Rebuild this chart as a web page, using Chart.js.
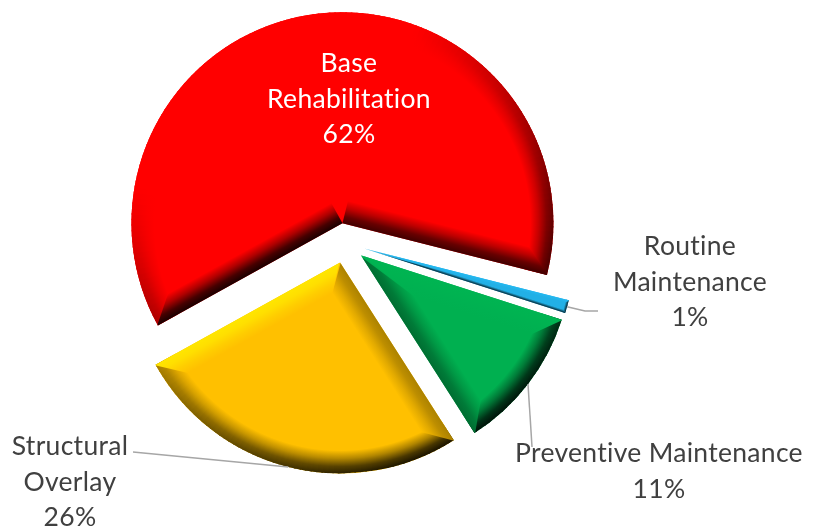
<!DOCTYPE html>
<html>
<head>
<meta charset="utf-8">
<script src="https://cdn.jsdelivr.net/npm/chart.js@4.4.0/dist/chart.umd.min.js"></script>
<style>
  html, body { margin: 0; padding: 0; background: #fff; }
  #wrap { width: 820px; height: 532px; position: relative; }
</style>
</head>
<body>
<div id="wrap"><canvas id="pieChart"></canvas></div>
<script>
// data
const categories = ['Base Rehabilitation', 'Routine Maintenance', 'Preventive Maintenance', 'Structural Overlay'];
const labelLines = [['Base', 'Rehabilitation'], ['Routine', 'Maintenance'], ['Preventive Maintenance'], ['Structural', 'Overlay']];
const shares = [62, 1, 11, 26];

// look
const sliceColors = ['#FF0000', '#22B0E6', '#00B050', '#FFC000'];
const EXPLODE = 20;
const BEVEL = 23;
const FONT = '26.5px Lato';
const LINE_H = 35.5;
// text anchor (first baseline) and leader bends for each label
const labelLayout = [
  { x: 349, y: 72, color: '#FFFFFF' },
  { x: 690, y: 255, color: '#404040', leader: [[585, 311], [598, 311]] },
  { x: 659, y: 462, color: '#404040', leader: [[532, 447]] },
  { x: 70, y: 455, color: '#404040', leader: [[133, 452]] }
];

const LIGHT = (function () { const x = -0.5, y = -0.87, l = Math.hypot(x, y); return [x / l, y / l]; })();
const PROFILE = [[0, 1], [0.3, 0.8], [0.65, 0.35], [1, 0]]; // depth (0 = rim) -> strength

function hexRgb(h) { const n = parseInt(h.slice(1), 16); return [(n >> 16) & 255, (n >> 8) & 255, n & 255]; }
function tone(rgb, f) {
  return 'rgb(' + rgb.map(c => Math.max(0, Math.min(255, Math.round(c * f)))).join(',') + ')';
}
function lightK(nx, ny) {
  const d = nx * LIGHT[0] + ny * LIGHT[1];
  return Math.max(-0.9, 0.55 * d - 0.35);
}
function addStops(g, rgb, k, rimAtEnd) {
  PROFILE.forEach(function (p) { g.addColorStop(rimAtEnd ? 1 - p[0] : p[0], tone(rgb, 1 + k * p[1])); });
}

function edgeBand(ctx, cx, cy, r, a, th, side, B, rgb) {
  const ux = Math.cos(a), uy = Math.sin(a);
  const nx = Math.cos(a + side * Math.PI / 2), ny = Math.sin(a + side * Math.PI / 2); // inward
  const qx = cx + r * ux, qy = cy + r * uy;
  const dl = Math.asin(B / (r - B));
  const q2x = cx + (r - B) * Math.cos(a + side * dl), q2y = cy + (r - B) * Math.sin(a + side * dl);
  let p2x, p2y;
  if (th < Math.PI) {
    const mid = a + side * th / 2, L = B / Math.sin(th / 2);
    p2x = cx + L * Math.cos(mid); p2y = cy + L * Math.sin(mid);
  } else {
    p2x = cx + B * nx; p2y = cy + B * ny;
  }
  const g = ctx.createLinearGradient(cx, cy, cx + B * nx, cy + B * ny);
  addStops(g, rgb, lightK(-nx, -ny), false);
  ctx.fillStyle = g;
  ctx.beginPath();
  ctx.moveTo(cx - nx, cy - ny);
  ctx.lineTo(qx - nx + ux * 2, qy - ny + uy * 2);
  ctx.lineTo(q2x, q2y);
  ctx.lineTo(p2x, p2y);
  ctx.closePath();
  ctx.fill();
}

function drawBevel(ctx, arc, rgb) {
  const cx = arc.x, cy = arc.y, r = arc.outerRadius;
  const a0 = arc.startAngle, a1 = arc.endAngle, th = a1 - a0;
  const B = Math.min(BEVEL, r * Math.sin(Math.min(th, Math.PI) / 2) * 0.45);
  ctx.save();
  ctx.beginPath();
  ctx.moveTo(cx, cy);
  ctx.arc(cx, cy, r, a0, a1);
  ctx.closePath();
  ctx.clip();
  const step = Math.PI / 120;
  for (let a = a0; a < a1; a += step) {
    const b = Math.min(a + step, a1), m = (a + b) / 2;
    const g = ctx.createRadialGradient(cx, cy, r - B, cx, cy, r);
    addStops(g, rgb, lightK(Math.cos(m), Math.sin(m)), true);
    ctx.fillStyle = g;
    ctx.beginPath();
    ctx.arc(cx, cy, r + 2, a - 0.004, b + 0.004);
    ctx.arc(cx, cy, r - B, b + 0.004, a - 0.004, true);
    ctx.closePath();
    ctx.fill();
  }
  edgeBand(ctx, cx, cy, r, a0, th, 1, B, rgb);
  edgeBand(ctx, cx, cy, r, a1, th, -1, B, rgb);
  ctx.restore();
}

const explodePlugin = {
  id: 'explode',
  afterDatasetUpdate(chart, args) {
    chart.getDatasetMeta(args.index).data.forEach(function (arc) {
      const mid = (arc.startAngle + arc.endAngle) / 2;
      arc.x += EXPLODE * Math.cos(mid);
      arc.y += EXPLODE * Math.sin(mid);
    });
  }
};

const bevelPlugin = {
  id: 'bevel',
  afterDatasetDraw(chart, args) {
    const ctx = chart.ctx;
    args.meta.data.forEach(function (arc, i) { drawBevel(ctx, arc, hexRgb(sliceColors[i])); });
  }
};

const labelPlugin = {
  id: 'sliceLabels',
  afterDraw(chart) {
    const ctx = chart.ctx;
    const arcs = chart.getDatasetMeta(0).data;
    ctx.save();
    ctx.font = FONT;
    ctx.letterSpacing = '0.3px';
    ctx.textAlign = 'center';
    ctx.textBaseline = 'alphabetic';
    arcs.forEach(function (arc, i) {
      const lay = labelLayout[i];
      if (lay.leader) {
        const mid = (arc.startAngle + arc.endAngle) / 2;
        ctx.beginPath();
        ctx.moveTo(arc.x + arc.outerRadius * Math.cos(mid), arc.y + arc.outerRadius * Math.sin(mid));
        lay.leader.forEach(function (p) { ctx.lineTo(p[0], p[1]); });
        ctx.strokeStyle = '#A6A6A6';
        ctx.lineWidth = 1.5;
        ctx.stroke();
      }
      ctx.fillStyle = lay.color;
      labelLines[i].concat(shares[i] + '%').forEach(function (t, j) {
        ctx.fillText(t, lay.x, lay.y + j * LINE_H);
      });
    });
    ctx.restore();
  }
};

new Chart(document.getElementById('pieChart'), {
  type: 'pie',
  data: {
    labels: categories,
    datasets: [{
      data: shares,
      backgroundColor: sliceColors,
      borderWidth: 0
    }]
  },
  options: {
    responsive: true,
    maintainAspectRatio: false,
    animation: false,
    rotation: 241,
    radius: 211,
    layout: { padding: { left: 0, right: 130, top: 0, bottom: 46 } },
    plugins: {
      legend: { display: false },
      tooltip: { enabled: false }
    }
  },
  plugins: [explodePlugin, bevelPlugin, labelPlugin]
});
</script>
</body>
</html>
